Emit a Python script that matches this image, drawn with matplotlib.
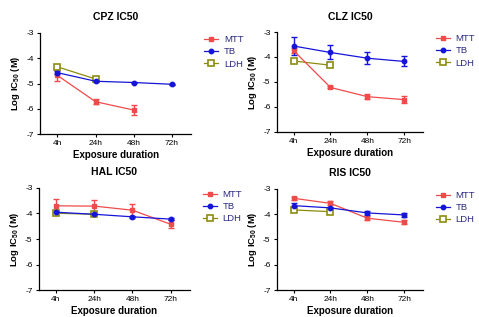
#IC50 over exposure time for four drugs (MTT, TB and LDH assays)
import matplotlib
matplotlib.use("Agg")
import matplotlib.pyplot as plt
from matplotlib.lines import Line2D
import numpy as np

plt.rcParams['font.family'] = ['Liberation Sans', 'DejaVu Sans']
plt.rcParams['mathtext.fontset'] = 'custom'
plt.rcParams['mathtext.rm'] = 'Liberation Sans'
plt.rcParams['mathtext.bf'] = 'Liberation Sans:bold'
plt.rcParams['axes.unicode_minus'] = False

times = ['4h', '24h', '48h', '72h']
drugs = ['CPZ', 'CLZ', 'HAL', 'RIS']

# log IC50 values (nan = not measured) and error bars, per drug
mtt = {'CPZ': [-4.68, -5.72, -6.05, np.nan],
       'CLZ': [-3.74, -5.22, -5.59, -5.71],
       'HAL': [-3.70, -3.71, -3.87, -4.42],
       'RIS': [-3.37, -3.57, -4.16, -4.32]}
mtt_err = {'CPZ': [0.22, 0.10, 0.20, 0],
           'CLZ': [0.10, 0.04, 0.10, 0.14],
           'HAL': [0.26, 0.25, 0.24, 0.15],
           'RIS': [0.05, 0.08, 0.07, 0.08]}
tb = {'CPZ': [-4.57, -4.91, -4.96, -5.03],
      'CLZ': [-3.56, -3.82, -4.05, -4.18],
      'HAL': [-3.95, -4.03, -4.13, -4.22],
      'RIS': [-3.66, -3.75, -3.95, -4.03]}
tb_err = {'CPZ': [0.05, 0.04, 0.03, 0.03],
          'CLZ': [0.35, 0.28, 0.23, 0.20],
          'HAL': [0.05, 0.04, 0.03, 0.03],
          'RIS': [0.10, 0.05, 0.08, 0.07]}
ldh = {'CPZ': [-4.34, -4.82],
       'CLZ': [-4.16, -4.33],
       'HAL': [-3.99, -4.03],
       'RIS': [-3.83, -3.90]}

red = '#ef4b4b'
blue = '#1515d8'
olive = '#8c8c10'
txt = '#2a2a80'

fig = plt.figure(figsize=(4.79, 3.17), dpi=100)
boxes = [[0.084, 0.577, 0.315, 0.319],
         [0.578, 0.584, 0.305, 0.315],
         [0.081, 0.085, 0.315, 0.322],
         [0.578, 0.085, 0.305, 0.319]]

x = np.arange(len(times))
for d, b in zip(drugs, boxes):
    ax = fig.add_axes(b)
    ax.errorbar(x, mtt[d], yerr=mtt_err[d], color=red, marker='s', ms=3.2,
                lw=0.9, elinewidth=1.0, capsize=2, capthick=1.0)
    ax.errorbar(x, tb[d], yerr=tb_err[d], color=blue, marker='o', ms=3.2,
                lw=0.9, elinewidth=1.0, capsize=2, capthick=1.0)
    ax.plot(x[:2], ldh[d], color=olive, marker='s', ms=4, mfc='white',
            mec=olive, mew=1.2, lw=0.9)
    ax.set_xlim(-0.45, 3.5)
    ax.set_ylim(-7, -3)
    ax.set_xticks(x)
    ax.set_xticklabels(times)
    ax.set_yticks([-7, -6, -5, -4, -3])
    ax.tick_params(labelsize=6, length=2.5, width=0.8, pad=2)
    for s in ['top', 'right']:
        ax.spines[s].set_visible(False)
    for s in ['left', 'bottom']:
        ax.spines[s].set_linewidth(0.9)
    ax.set_title(d + ' IC50', fontsize=7.5, fontweight='bold', pad=9)
    ax.set_xlabel('Exposure duration', fontsize=7, fontweight='bold', labelpad=2)
    ax.set_ylabel(r'Log IC$_{\mathbf{50}}$ (M)', fontsize=6.8, fontweight='bold', labelpad=3)
    handles = [Line2D([], [], color=red, marker='s', ms=3.2, lw=0.9),
               Line2D([], [], color=blue, marker='o', ms=3.2, lw=0.9),
               Line2D([], [], color=olive, marker='s', ms=4, mfc='white',
                      mec=olive, mew=1.2, lw=0.9)]
    leg = ax.legend(handles, ['MTT', 'TB', 'LDH'], loc='upper left',
                    bbox_to_anchor=(1.03, 1.065), frameon=False, fontsize=6.8,
                    handlelength=1.5, handletextpad=0.6, labelspacing=0.35)
    for t in leg.get_texts():
        t.set_color(txt)

fig.savefig('out.png', dpi=100)
